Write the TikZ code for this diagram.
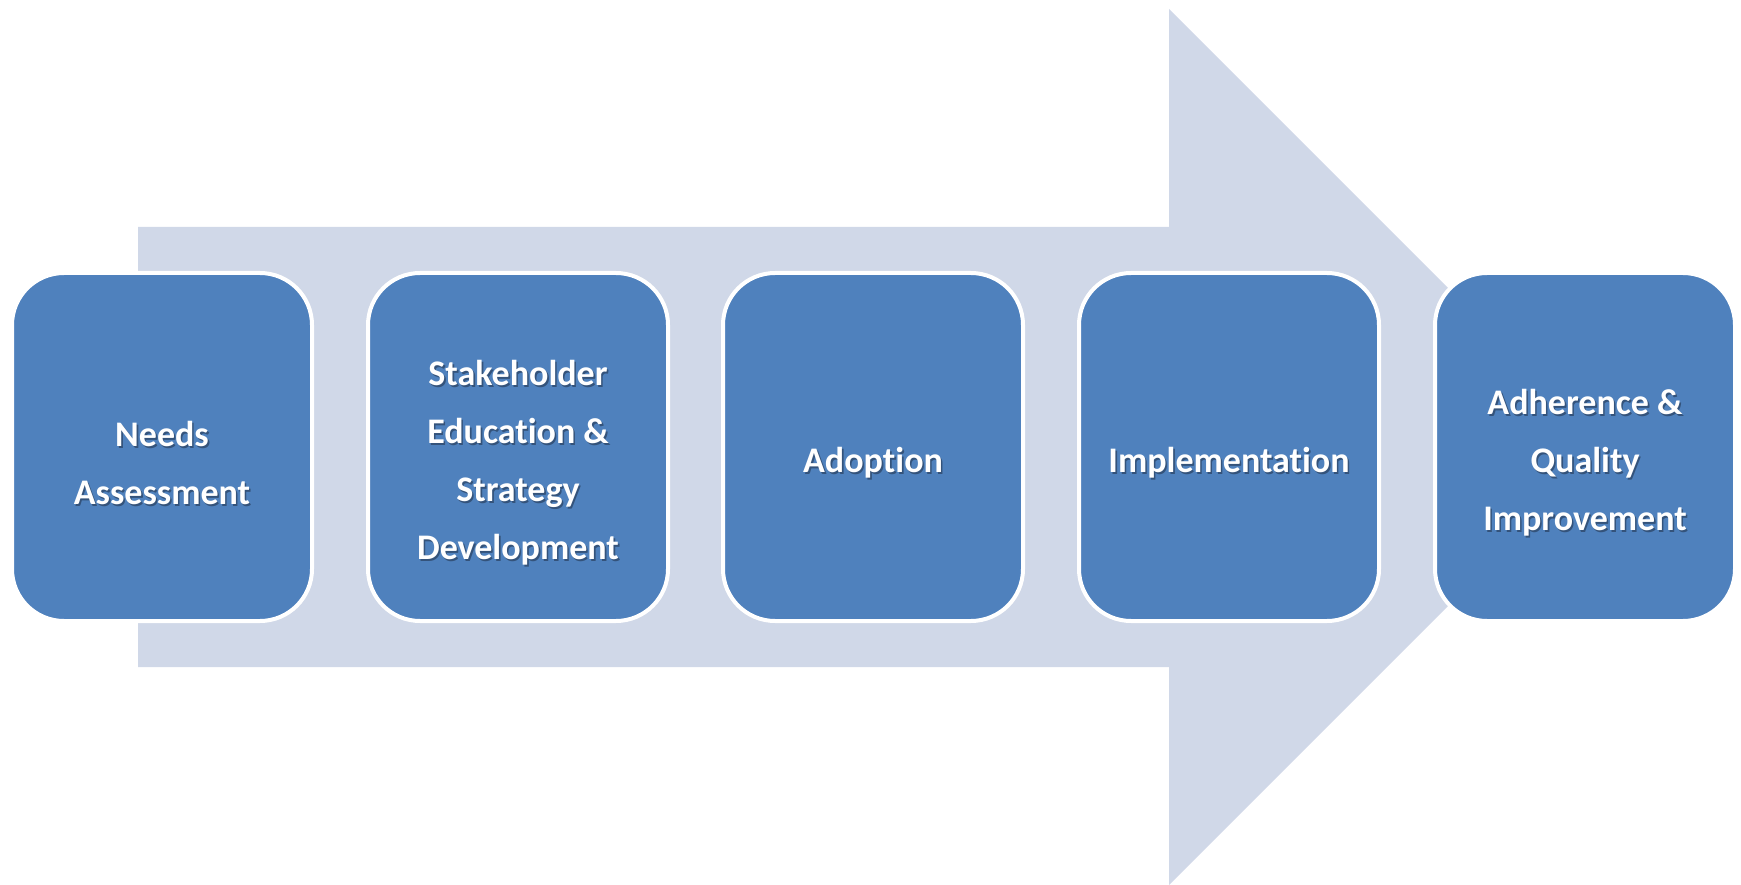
\documentclass[tikz,border=0pt]{standalone}
\usepackage{fontspec}
\setmainfont{Carlito}[Ligatures={NoCommon}]
\definecolor{boxblue}{HTML}{4F81BD}
\definecolor{arrowgray}{HTML}{D0D8E8}
\definecolor{shadowc}{HTML}{1F2F45}
\tikzset{
  stepbox/.style={draw=white, line width=4pt, fill=boxblue, rounded corners=52pt,
    minimum width=300pt, minimum height=348pt, inner sep=0pt},
  steptext/.style={text=white, align=center, font=\fontsize{36pt}{58pt}\selectfont\bfseries},
  stepshadow/.style={text=shadowc, opacity=0.55, align=center, font=\fontsize{36pt}{58pt}\selectfont\bfseries}
}
\newcommand{\mystep}[3]{%
  \node[stepbox] (#1) at (#2,447) {};
  \node[stepshadow] (#1s) at ([xshift=1.6pt,yshift=-17.6pt]#1.center) {#3};
  \node[steptext] (#1t) at ([yshift=-16pt]#1.center) {#3};
}
\begin{document}
\begin{tikzpicture}[x=1pt,y=-1pt]
\useasboundingbox (0,0) rectangle (1741,885);
\fill[arrowgray] (138,227) -- (1169,227) -- (1169,9) -- (1607,447) -- (1169,885) -- (1169,667) -- (138,667) -- cycle;
\mystep{b1}{162}{Needs\\Assessment}
\mystep{b2}{518}{Stakeholder\\Education \&\\Strategy\\Development}
\mystep{b3}{873}{Adoption}
\mystep{b4}{1229}{Implementation}
\mystep{b5}{1585}{Adherence \&\\Quality\\Improvement}
\end{tikzpicture}
\end{document}
